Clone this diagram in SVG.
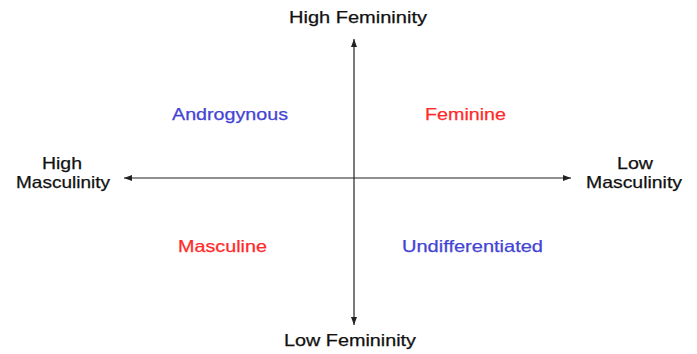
<svg xmlns="http://www.w3.org/2000/svg" width="697" height="354" viewBox="0 0 697 354">
<style>
text{font-family:"Liberation Sans",Arial,sans-serif;font-size:16.5px;fill:#111;stroke:#111;stroke-width:0.25}
.b{fill:#4444d4;stroke:#4444d4}
.r{fill:#ff2a2a;stroke:#ff2a2a}
.ax{stroke:#222;stroke-width:1.2;fill:none}
</style>
<defs>
<marker id="ah" markerWidth="8" markerHeight="6" refX="8" refY="3" orient="auto" markerUnits="userSpaceOnUse">
<path d="M0,0 L8,3 L0,6 z" fill="#222"/>
</marker>
</defs>
<rect width="697" height="354" fill="#fff"/>
<g id="connectors">
<line class="ax" x1="354" y1="178" x2="354" y2="39" marker-end="url(#ah)"/>
<line class="ax" x1="354" y1="178" x2="354" y2="325" marker-end="url(#ah)"/>
<line class="ax" x1="354" y1="178" x2="124" y2="178" marker-end="url(#ah)"/>
<line class="ax" x1="354" y1="178" x2="571" y2="178" marker-end="url(#ah)"/>
</g>
<g id="high-femininity"><text x="289" y="23" textLength="138" lengthAdjust="spacingAndGlyphs">High Femininity</text></g>
<g id="low-femininity"><text x="284" y="346" textLength="132" lengthAdjust="spacingAndGlyphs">Low Femininity</text></g>
<g id="high-masculinity"><text x="42" y="169" textLength="40" lengthAdjust="spacingAndGlyphs">High</text><text x="16" y="188" textLength="94" lengthAdjust="spacingAndGlyphs">Masculinity</text></g>
<g id="low-masculinity"><text x="617" y="169" textLength="36" lengthAdjust="spacingAndGlyphs">Low</text><text x="586" y="188" textLength="96" lengthAdjust="spacingAndGlyphs">Masculinity</text></g>
<g id="androgynous"><text class="b" x="172" y="120" textLength="116" lengthAdjust="spacingAndGlyphs">Androgynous</text></g>
<g id="feminine"><text class="r" x="425" y="120" textLength="81" lengthAdjust="spacingAndGlyphs">Feminine</text></g>
<g id="masculine"><text class="r" x="178" y="252" textLength="89" lengthAdjust="spacingAndGlyphs">Masculine</text></g>
<g id="undifferentiated"><text class="b" x="402" y="252" textLength="141" lengthAdjust="spacingAndGlyphs">Undifferentiated</text></g>
</svg>
